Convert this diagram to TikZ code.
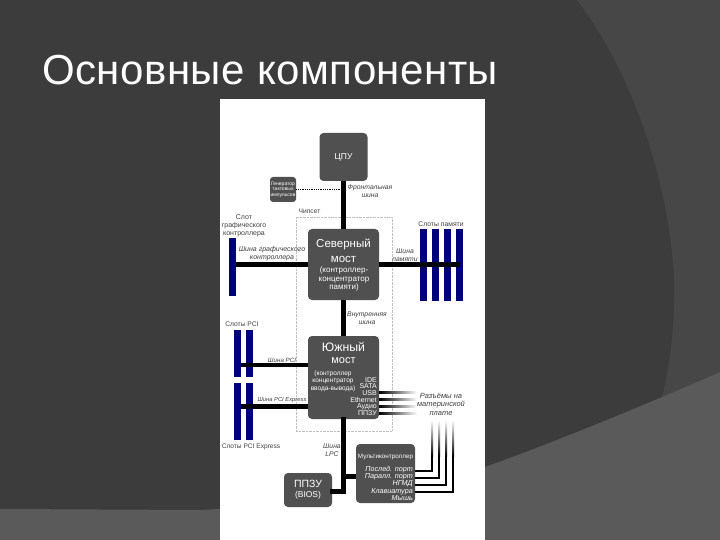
\documentclass[tikz,border=0pt]{standalone}
\usepackage{fontspec}
\setmainfont{Liberation Sans}
\usepackage{xcolor}
\usetikzlibrary{positioning,calc}
\definecolor{mbdark}{HTML}{3C3C3C}
\definecolor{mbband}{HTML}{474747}
\definecolor{mbfoot}{HTML}{5A5A5A}
\definecolor{mbchip}{HTML}{505050}
\definecolor{mbslot}{HTML}{00007F}
\newcommand{\fs}[1]{\fontsize{#1}{#1}\selectfont}
\begin{document}
\begin{tikzpicture}[x=1pt,y=-1pt,
  chip/.style={fill=mbchip,rounded corners=4pt,inner sep=0pt},
  slot/.style={fill=mbslot,inner sep=0pt,minimum width=7pt},
  bus/.style={line width=4.5pt,black},
  wire/.style={line width=2pt,black},
  chiptext/.style={text=white,inner sep=0pt,align=center,font=\fs{6.5}},
  tag/.style={inner sep=0pt,align=center,text=black!75,font=\fs{6.7}},
  bustag/.style={tag,font=\fs{6.8}\itshape}]
  \useasboundingbox (0,0) rectangle (720,540);
  % slide background
  \fill[mbdark] (0,0) rectangle (720,540);
  \fill[mbband] (577,0) .. controls (630,70) and (665,170) .. (673,263) .. controls (677,300) and (672,360) .. (662,397) -- (720,372) -- (720,0) -- cycle;
  \fill[mbfoot] (0,509) -- (200,510) .. controls (300,505) and (420,490) .. (485,467) .. controls (560,440) and (640,407) .. (720,372) -- (720,540) -- (0,540) -- cycle;
  \node[anchor=base west,inner sep=0pt,text=white,font=\fs{42}\addfontfeature{LetterSpace=1.2}] (title) at (42,85) {Основные компоненты};
  \node[fill=white,inner sep=0pt,minimum width=265pt,minimum height=441pt] (sheet) at (352.5,319.5) {};
  % chipset frame
  \node[draw=black!25,densely dotted,inner sep=0pt,minimum width=96pt,minimum height=214pt] (chipset) at (344,324) {};
  \node[tag] (chipsettag) at (309.5,211) {Чипсет};
  % chips
  \node[chip,minimum width=48pt,minimum height=48pt] (cpu) at (343.5,157) {};
  \node[chip,rounded corners=3pt,minimum width=26pt,minimum height=25pt] (clock) at (283,189.5) {};
  \node[chip,minimum width=71pt,minimum height=71pt] (north) at (343.5,264.5) {};
  \node[chip,minimum width=71pt,minimum height=83pt] (south) at (343.5,377.5) {};
  \node[chip,minimum width=59pt,minimum height=59pt] (multi) at (385.5,473.5) {};
  \node[chip,minimum width=48pt,minimum height=34pt] (bios) at (308,490) {};
  % slots
  \node[slot,minimum height=58pt] (gfxslot) at (232,267) {};
  \node[slot,minimum height=72pt] (memA) at (423.5,265) {};
  \node[slot,minimum height=72pt] (memB) at (435.5,265) {};
  \node[slot,minimum height=72pt] (memC) at (447.5,265) {};
  \node[slot,minimum height=72pt] (memD) at (459.5,265) {};
  \node[slot,minimum height=47pt] (pciA) at (237.5,353.5) {};
  \node[slot,minimum height=47pt] (pciB) at (249.5,353.5) {};
  \node[slot,minimum height=57pt] (pexA) at (237.5,411.5) {};
  \node[slot,minimum height=57pt] (pexB) at (249.5,411.5) {};
  % bus ends
  \coordinate (pcibus) at (308,365);
  \coordinate (pexbus) at (308,406.5);
  \coordinate (lpcbend) at (343.5,491.5);
  \coordinate (lpcfork) at (343.5,476.5);
  % buses
  \draw[bus] (cpu) -- (north);
  \draw[bus] (north) -- (south);
  \draw[bus] (north.west) -- (gfxslot.east |- north.west);
  \draw[bus] (north.east) -- (memD |- north.east);
  \draw[bus] (pcibus) -- (pciA.east |- pcibus);
  \draw[bus] (pexbus) -- (pexA.east |- pexbus);
  \draw[bus,line cap=rect] (south.south) -- (lpcbend) -- (bios.east |- lpcbend);
  \draw[bus] (lpcfork) -- (multi.west |- lpcfork);
  \draw[black,densely dotted,line width=.8pt] (clock.east) -- (cpu.south |- clock.east);
  % on-board ends
  \coordinate (usbend) at (417,392.5);
  \coordinate (lanend) at (417,399.5);
  \coordinate (audioend) at (417,406.5);
  \coordinate (cmosend) at (417,413.5);
  \coordinate (comend) at (432,420);
  \coordinate (lptend) at (439,420);
  \coordinate (fddend) at (446,420);
  \coordinate (kbdend) at (453,420);
  \shade[left color=black,right color=white] ($(south.east |- usbend)+(0,-1)$) rectangle ($(usbend)+(0,1)$);
  \shade[left color=black,right color=white] ($(south.east |- lanend)+(0,-1)$) rectangle ($(lanend)+(0,1)$);
  \shade[left color=black,right color=white] ($(south.east |- audioend)+(0,-1)$) rectangle ($(audioend)+(0,1)$);
  \shade[left color=black,right color=white] ($(south.east |- cmosend)+(0,-1)$) rectangle ($(cmosend)+(0,1)$);
  \shade[top color=white,bottom color=black] ($(comend)+(-1,0)$) rectangle ($(comend)+(1,36)$);
  \shade[top color=white,bottom color=black] ($(lptend)+(-1,0)$) rectangle ($(lptend)+(1,36)$);
  \shade[top color=white,bottom color=black] ($(fddend)+(-1,0)$) rectangle ($(fddend)+(1,36)$);
  \shade[top color=white,bottom color=black] ($(kbdend)+(-1,0)$) rectangle ($(kbdend)+(1,36)$);
  \draw[wire] (multi.east |- 0,471) -| ($(comend)+(0,36)$);
  \draw[wire] (multi.east |- 0,478) -| ($(lptend)+(0,36)$);
  \draw[wire] (multi.east |- 0,485) -| ($(fddend)+(0,36)$);
  \draw[wire] (multi.east |- 0,492) -| ($(kbdend)+(0,36)$);
  % chip texts
  \node[chiptext,font=\fs{8.5}] (cputext) at (343.5,157) {ЦПУ};
  \node[chiptext,font=\fs{5}] (clocktext) at (283,189.5) {Генератор\\[.5pt]тактовых\\[.5pt]импульсов};
  \node[chiptext,font=\fs{11.5}] (northname) at (343.5,244) {Северный};
  \node[chiptext,font=\fs{11.5}] (northname2) at (343.5,259) {мост};
  \node[chiptext,font=\fs{8}] (northrole) at (344,279) {(контроллер-\\[.5pt]концентратор\\[.5pt]памяти)};
  \node[chiptext,font=\fs{12.3}] (southname) at (343.5,347) {Южный};
  \node[chiptext,font=\fs{11}] (southname2) at (343.5,361) {мост};
  \node[chiptext] (southrole) at (333,381) {(контроллер\\[1pt]концентратор\\[1pt]ввода-вывода)};
  \node[chiptext,anchor=east,font=\fs{7}] (ide) at (377,380) {IDE};
  \node[chiptext,anchor=east,font=\fs{7}] (sata) at (377,386.5) {SATA};
  \node[chiptext,anchor=east,font=\fs{7}] (usb) at (377,393) {USB};
  \node[chiptext,anchor=east,font=\fs{7}] (lan) at (377,400) {Ethernet};
  \node[chiptext,anchor=east,font=\fs{7}] (audio) at (377,407) {Аудио};
  \node[chiptext,anchor=east,font=\fs{7}] (cmos) at (377,413.5) {ППЗУ};
  \node[chiptext,font=\fs{6.3}] (multiname) at (385.5,457) {Мультиконтроллер};
  \node[chiptext,anchor=east,font=\fs{7.2}\itshape] (com) at (413,470) {Послед. порт};
  \node[chiptext,anchor=east,font=\fs{7.2}\itshape] (lpt) at (413,477) {Паралл. порт};
  \node[chiptext,anchor=east,font=\fs{7.2}\itshape] (fdd) at (413,484) {НГМД};
  \node[chiptext,anchor=east,font=\fs{7.2}\itshape] (kbd) at (413,491.5) {Клавиатура};
  \node[chiptext,anchor=east,font=\fs{7.2}\itshape] (mouse) at (413,498) {Мышь};
  \node[chiptext,font=\fs{10.5}] (biosname) at (308,484) {ППЗУ};
  \node[chiptext,font=\fs{8.5}] (biostext) at (308,495) {(BIOS)};
  % labels
  \node[bustag] (fsbtag) at (370,191.5) {Фронтальная\\[1pt]шина};
  \node[tag,font=\fs{7}] (gfxtag) at (244,225.5) {Слот\\[1pt]графического\\[1pt]контроллера};
  \node[bustag,font=\fs{7}\itshape] (gfxbustag) at (272,254) {Шина графического\\[1pt]контроллера};
  \node[tag,font=\fs{6.8}] (memtag) at (441,224) {Слоты памяти};
  \node[bustag] (membustag) at (405,255.5) {Шина\\[1pt]памяти};
  \node[bustag] (inttag) at (367,318) {Внутренняя\\[1pt]шина};
  \node[tag] (pcitag) at (242,324) {Слоты PCI};
  \node[bustag,font=\fs{6.2}\itshape] (pcibustag) at (282,360.5) {Шина PCI};
  \node[bustag,font=\fs{5.8}\itshape] (pexbustag) at (282,400.5) {Шина PCI Express};
  \node[tag,font=\fs{6.6}] (pextag) at (251,447) {Слоты PCI Express};
  \node[bustag] (lpctag) at (332,450.5) {Шина\\[1pt]LPC};
  \node[bustag,font=\fs{7.5}\itshape] (boardtag) at (441,404) {Разъёмы на\\[1pt]материнской\\[1pt]плате};
\end{tikzpicture}
\end{document}
